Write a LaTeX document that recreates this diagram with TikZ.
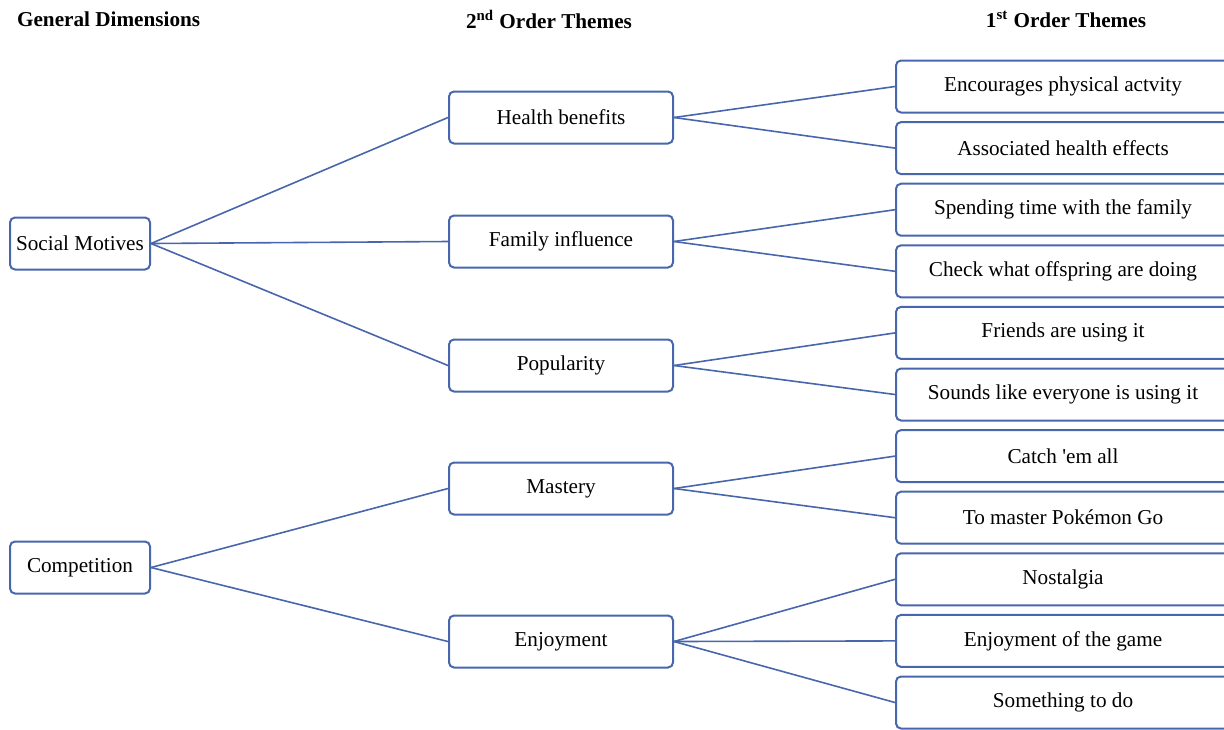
\documentclass[tikz,border=0pt]{standalone}
\usepackage{fontspec}
\setmainfont{Liberation Serif}
\definecolor{boxblue}{RGB}{72,102,172}
\tikzset{
  theme/.style={draw=boxblue, line width=1pt, rounded corners=2.5pt, minimum height=26pt, inner sep=0pt, font=\fontsize{10.6}{12}\selectfont},
  dimbox/.style={theme, minimum width=70pt},
  secondbox/.style={theme, minimum width=112pt},
  firstbox/.style={theme, minimum width=167pt, anchor=west},
  heading/.style={font=\bfseries\fontsize{10.6}{12}\selectfont},
  link/.style={draw=boxblue, line width=0.8pt}
}
\begin{document}
\begin{tikzpicture}[x=0.5pt,y=-0.5pt]
    \useasboundingbox (0,0) rectangle (1224,729);
    \node[heading, anchor=west] (gendim) at (10,19) {General Dimensions} ;
    \node[heading] (secondhead) at (549,19) {2\textsuperscript{nd} Order Themes} ;
    \node[heading] (firsthead) at (1066,19) {1\textsuperscript{st} Order Themes} ;
    \node[dimbox] (social) at (80,243.5) {Social Motives} ;
    \node[dimbox] (compet) at (80,567.5) {Competition} ;
    \node[secondbox] (health) at (561,117.5) {Health benefits} ;
    \node[secondbox] (family) at (561,241.5) {Family influence} ;
    \node[secondbox] (popular) at (561,365.5) {Popularity} ;
    \node[secondbox] (mastery) at (561,488.5) {Mastery} ;
    \node[secondbox] (enjoy) at (561,641.5) {Enjoyment} ;
    \node[firstbox] (physical) at (895,86.5) {Encourages physical actvity} ;
    \node[firstbox] (effects) at (895,148.1) {Associated health effects} ;
    \node[firstbox] (spending) at (895,209.7) {Spending time with the family} ;
    \node[firstbox] (offspring) at (895,271.3) {Check what offspring are doing} ;
    \node[firstbox] (friends) at (895,332.9) {Friends are using it} ;
    \node[firstbox] (everyone) at (895,394.5) {Sounds like everyone is using it} ;
    \node[firstbox] (catch) at (895,456.1) {Catch \textquotesingle em all} ;
    \node[firstbox] (master) at (895,517.7) {To master Pokémon Go} ;
    \node[firstbox] (nostalgia) at (895,579.3) {Nostalgia} ;
    \node[firstbox] (game) at (895,640.9) {Enjoyment of the game} ;
    \node[firstbox] (todo) at (895,702.5) {Something to do} ;
    \draw[link] (social.east) -- (health.west) ;
    \draw[link] (social.east) -- (family.west) ;
    \draw[link] (social.east) -- (popular.west) ;
    \draw[link] (compet.east) -- (mastery.west) ;
    \draw[link] (compet.east) -- (enjoy.west) ;
    \draw[link] (health.east) -- (physical.west) ;
    \draw[link] (health.east) -- (effects.west) ;
    \draw[link] (family.east) -- (spending.west) ;
    \draw[link] (family.east) -- (offspring.west) ;
    \draw[link] (popular.east) -- (friends.west) ;
    \draw[link] (popular.east) -- (everyone.west) ;
    \draw[link] (mastery.east) -- (catch.west) ;
    \draw[link] (mastery.east) -- (master.west) ;
    \draw[link] (enjoy.east) -- (nostalgia.west) ;
    \draw[link] (enjoy.east) -- (game.west) ;
    \draw[link] (enjoy.east) -- (todo.west) ;
  \end{tikzpicture}
\end{document}
